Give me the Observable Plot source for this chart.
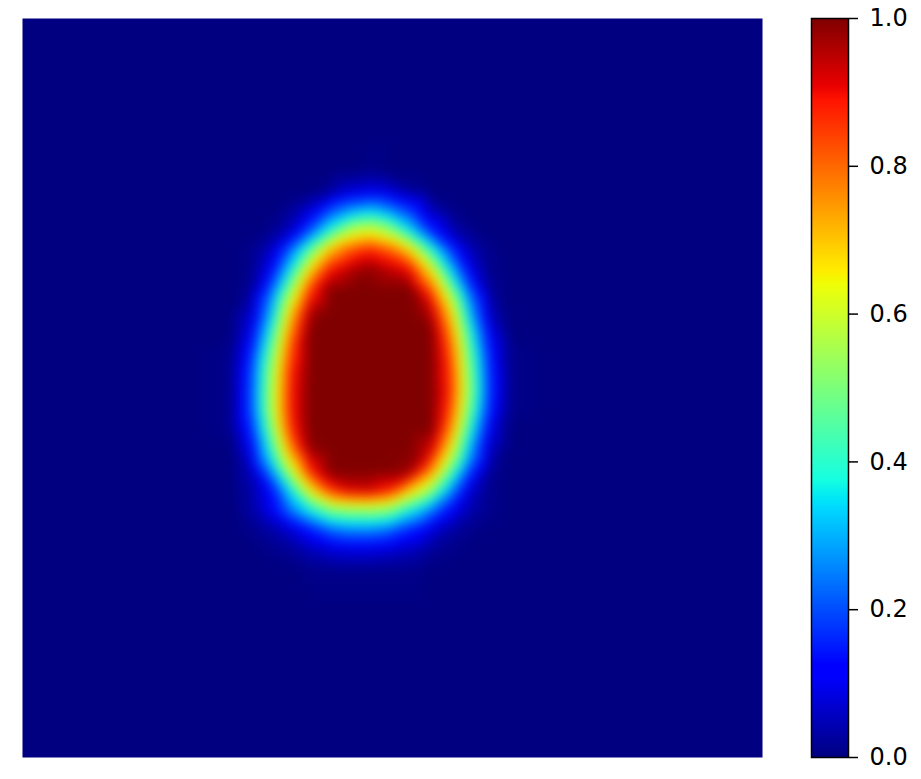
<!DOCTYPE html>
<html><head><meta charset="utf-8">
<script src="https://cdn.jsdelivr.net/npm/d3@7"></script>
<script src="https://cdn.jsdelivr.net/npm/@observablehq/plot@0.6"></script>
<style>
html,body{margin:0;padding:0;background:#fff;}
#wrap{position:relative;width:921px;height:779px;overflow:hidden;background:#fff;}
#heat{position:absolute;left:0;top:0;}
#bar{position:absolute;left:790px;top:0;}
</style></head>
<body><div id="wrap"><div id="heat"></div><div id="bar"></div></div>
<script>
// sample grid (field coordinates, 0..740 across, 0..739 down)
const colX = [208, 228, 248, 268, 288, 308, 328, 348, 368, 388, 408, 428, 448, 468, 488];
const rowY = [152, 172, 192, 212, 232, 252, 272, 292, 312, 332, 352, 372, 392, 412, 432, 452, 472, 492, 512, 532, 552];
const rows = [
  [0,0,0,0,0,0,0,0.01,0,0,0,0,0,0,0],
  [0,0,0,0,0,0.02,0.07,0.09,0.07,0.02,0,0,0,0,0],
  [0,0,0,0.02,0.08,0.2,0.28,0.32,0.26,0.18,0.05,0.01,0,0,0],
  [0,0,0.01,0.06,0.21,0.4,0.57,0.62,0.53,0.35,0.16,0.05,0.01,0,0],
  [0,0.01,0.06,0.23,0.47,0.72,0.83,0.88,0.82,0.68,0.42,0.19,0.05,0.01,0],
  [0,0.01,0.11,0.37,0.69,0.9,0.96,0.99,0.95,0.9,0.66,0.34,0.1,0.01,0],
  [0,0.02,0.21,0.53,0.86,1,1,1,1,1,0.84,0.52,0.2,0.02,0],
  [0,0.05,0.29,0.67,0.96,1,1,1,1,1,0.95,0.67,0.29,0.05,0],
  [0,0.09,0.38,0.76,1,1,1,1,1,1,1,0.76,0.38,0.09,0],
  [0.01,0.14,0.46,0.83,1,1,1,1,1,1,1,0.82,0.44,0.13,0.01],
  [0.01,0.18,0.52,0.87,1,1,1,1,1,1,1,0.85,0.48,0.15,0.01],
  [0.01,0.19,0.54,0.88,1,1,1,1,1,1,1,0.86,0.5,0.16,0.01],
  [0.01,0.19,0.54,0.88,1,1,1,1,1,1,1,0.83,0.46,0.14,0.01],
  [0.01,0.15,0.48,0.85,1,1,1,1,1,1,1,0.76,0.38,0.09,0],
  [0,0.1,0.39,0.75,0.98,1,1,1,1,1,0.93,0.64,0.29,0.05,0],
  [0,0.05,0.26,0.58,0.88,1,1,1,1,0.98,0.78,0.47,0.18,0.02,0],
  [0,0.03,0.12,0.36,0.65,0.85,0.92,0.93,0.87,0.69,0.53,0.28,0.07,0.01,0],
  [0,0.03,0.1,0.24,0.37,0.49,0.52,0.53,0.5,0.37,0.25,0.12,0.04,0.01,0],
  [0,0.01,0.03,0.07,0.14,0.22,0.25,0.25,0.22,0.15,0.08,0.03,0.01,0,0],
  [0,0,0.01,0.02,0.05,0.07,0.08,0.08,0.07,0.05,0.02,0.01,0,0,0],
  [0,0,0,0,0.01,0.01,0.01,0.01,0.01,0.01,0,0,0,0,0]
];
// zero-valued background: a ring just outside the grid and the four field corners
const ringX = [168, 528];
const ringY = [112, 592];
const cornerX = [0, 740, 0, 740];
const cornerY = [0, 0, 739, 739];

// jet colormap breakpoints
const jetStops = [0, 0.11, 0.125, 0.34, 0.35, 0.375, 0.64, 0.65, 0.66, 0.89, 0.91, 1];
const jetColors = ["rgb(0,0,128)","rgb(0,0,255)","rgb(0,0,255)","rgb(0,219,255)","rgb(0,230,247)",
  "rgb(21,255,226)","rgb(239,255,8)","rgb(247,245,0)","rgb(255,236,0)","rgb(255,19,0)","rgb(232,0,0)","rgb(128,0,0)"];
const barTicks = [0, 0.2, 0.4, 0.6, 0.8, 1.0];

const cells = [];
rows.forEach((r, j) => r.forEach((v, i) => cells.push({x: colX[i], y: rowY[j], v})));
const ringCols = [ringX[0], ...colX, ringX[1]];
ringCols.forEach(x => ringY.forEach(y => cells.push({x, y, v: 0})));
rowY.forEach(y => ringX.forEach(x => cells.push({x, y, v: 0})));
cornerX.forEach((x, k) => cells.push({x, y: cornerY[k], v: 0}));

const jet = {type: "linear", domain: jetStops, range: jetColors, interpolate: "rgb", clamp: true};

const heat = Plot.plot({
  width: 784, height: 779,
  marginTop: 18, marginLeft: 22, marginRight: 22, marginBottom: 22,
  x: {domain: [0, 740], axis: null},
  y: {domain: [0, 739], reverse: true, axis: null},
  color: jet,
  style: {background: "transparent"},
  marks: [
    Plot.raster(cells, {x: "x", y: "y", fill: "v", x1: 0, x2: 740, y1: 0, y2: 739,
      interpolate: "barycentric", blur: 5, pixelSize: 1})
  ]
});
document.getElementById("heat").appendChild(heat);

const bar = Plot.plot({
  width: 131, height: 779,
  marginTop: 18, marginBottom: 22, marginLeft: 21, marginRight: 73,
  x: {domain: [0, 1], axis: null},
  y: {domain: [0, 1], axis: null},
  color: jet,
  style: {fontFamily: "DejaVu Sans", fontSize: "24px", color: "black", background: "transparent"},
  marks: [
    Plot.raster({x1: 0, x2: 1, y1: 0, y2: 1, fill: (x, y) => y, pixelSize: 1}),
    Plot.frame({stroke: "black", strokeWidth: 1.5}),
    Plot.axisY(barTicks, {anchor: "right", tickSize: 9, tickPadding: 12, strokeWidth: 1.5,
      tickFormat: d => d.toFixed(1), fontSize: 24, label: null})
  ]
});
document.getElementById("bar").appendChild(bar);
</script>
</body></html>
